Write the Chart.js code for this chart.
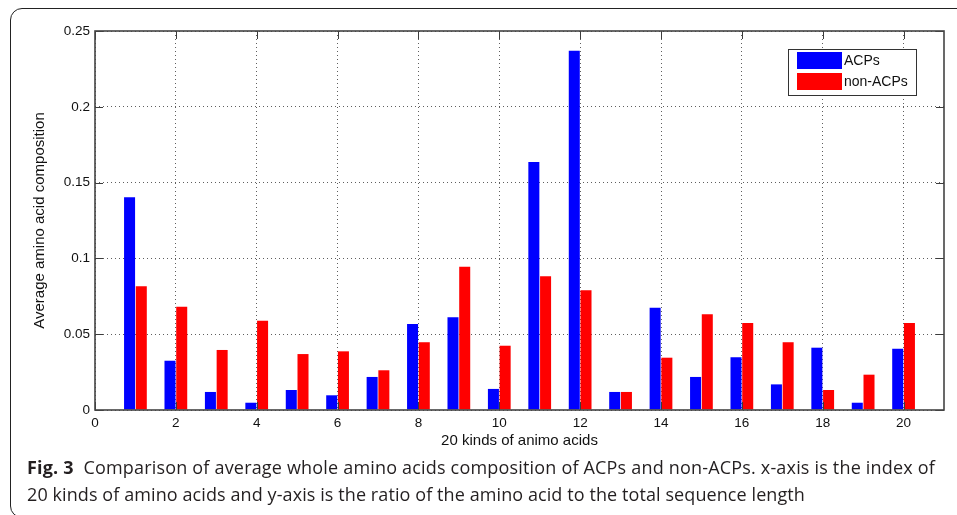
<!DOCTYPE html>
<html>
<head>
<meta charset="utf-8">
<script src="https://cdn.jsdelivr.net/npm/chart.js@4.4.1/dist/chart.umd.min.js"></script>
<style>
  html, body { margin: 0; padding: 0; background: #fff; }
  body { width: 957px; height: 515px; position: relative; overflow: hidden; }
  #frame {
    position: absolute; left: 10px; top: 8px; width: 980px; height: 508px;
    border: 1.5px solid #222; border-radius: 12px 0 0 12px;
  }
  #wrap { position: absolute; left: 0; top: 0; width: 957px; height: 455px; }
  #caption {
    position: absolute; left: 27px; top: 454px;
    font-family: "Open Sans", "Noto Sans", sans-serif; font-size: 18px;
    line-height: 27px; color: #231f20;
  }
  #caption .ln { white-space: nowrap; display: block; }
  #caption .ln span { display: inline-block; }
</style>
</head>
<body>
<div id="frame"></div>
<div id="wrap"><canvas id="chart" width="957" height="455"></canvas></div>
<div id="caption">
  <div class="ln"><span id="line1"><b>Fig. 3</b>&nbsp;&nbsp;Comparison of average whole amino acids composition of ACPs and non-ACPs. x-axis is the index of</span></div>
  <div class="ln"><span id="line2">20 kinds of amino acids and y-axis is the ratio of the amino acid to the total sequence length</span></div>
</div>
<script>
// amino acid index 1..20
const aminoIndex = [1, 2, 3, 4, 5, 6, 7, 8, 9, 10, 11, 12, 13, 14, 15, 16, 17, 18, 19, 20];
const acpValues = [0.1403, 0.0325, 0.0119, 0.0048, 0.0132, 0.0097, 0.0218, 0.0567, 0.0611, 0.0139,
                   0.1636, 0.2370, 0.0119, 0.0675, 0.0218, 0.0348, 0.0169, 0.0411, 0.0048, 0.0404];
const nonAcpValues = [0.0816, 0.0681, 0.0396, 0.0589, 0.0369, 0.0387, 0.0262, 0.0447, 0.0945, 0.0424,
                      0.0882, 0.0790, 0.0119, 0.0345, 0.0631, 0.0574, 0.0447, 0.0132, 0.0233, 0.0574];
const xTicks = [0, 2, 4, 6, 8, 10, 12, 14, 16, 18, 20];
const yTicks = [0, 0.05, 0.1, 0.15, 0.2, 0.25];

const axisFont = { family: "'Liberation Sans', Arial, sans-serif", size: 13.5 };
const titleFont = { family: "'Liberation Sans', Arial, sans-serif", size: 15 };

// box round the axes plus MATLAB-style inward tick marks
const boxPlugin = {
    id: 'axesBox',
    afterDraw(chart) {
        const { ctx, chartArea: a, scales } = chart;
        const len = 8;
        ctx.save();
        ctx.strokeStyle = '#3c3c3c';
        ctx.lineWidth = 1;
        ctx.beginPath();
        xTicks.forEach(v => {
            const px = Math.round(scales.x.getPixelForValue(v)) + 0.5;
            ctx.moveTo(px, a.bottom); ctx.lineTo(px, a.bottom - len);
            ctx.moveTo(px, a.top); ctx.lineTo(px, a.top + len);
        });
        yTicks.forEach(v => {
            const py = Math.round(scales.y.getPixelForValue(v)) + 0.5;
            ctx.moveTo(a.left, py); ctx.lineTo(a.left + len, py);
            ctx.moveTo(a.right, py); ctx.lineTo(a.right - len, py);
        });
        ctx.stroke();
        ctx.lineWidth = 1.6;
        ctx.strokeStyle = '#444';
        ctx.strokeRect(a.left, a.top, a.right - a.left, a.bottom - a.top);
        ctx.restore();
    }
};

// legend box inside the top right corner
const legendPlugin = {
    id: 'insideLegend',
    afterDraw(chart) {
        const { ctx, chartArea: a } = chart;
        const bx = a.right - 156, by = a.top + 18, bw = 128, bh = 46;
        ctx.save();
        ctx.fillStyle = '#fff';
        ctx.fillRect(bx, by, bw, bh);
        ctx.strokeStyle = '#333';
        ctx.lineWidth = 1;
        ctx.strokeRect(bx + 0.5, by + 0.5, bw, bh);
        ctx.font = "14px 'Liberation Sans', Arial, sans-serif";
        ctx.textBaseline = 'middle';
        chart.data.datasets.forEach((ds, i) => {
            const sy = by + 3 + i * 21;
            ctx.fillStyle = ds.backgroundColor;
            ctx.fillRect(bx + 9, sy, 45, 17);
            ctx.fillStyle = '#111';
            ctx.fillText(ds.label, bx + 56, sy + 9);
        });
        ctx.restore();
    }
};

new Chart(document.getElementById('chart'), {
    type: 'bar',
    data: {
        datasets: [
            {
                label: 'ACPs',
                data: aminoIndex.map((x, i) => ({ x: x, y: acpValues[i] })),
                backgroundColor: '#0000ff',
                borderWidth: 0
            },
            {
                label: 'non-ACPs',
                data: aminoIndex.map((x, i) => ({ x: x, y: nonAcpValues[i] })),
                backgroundColor: '#ff0000',
                borderWidth: 0
            }
        ]
    },
    options: {
        responsive: false,
        animation: false,
        devicePixelRatio: 1,
        categoryPercentage: 0.58,
        barPercentage: 0.94,
        layout: { padding: { top: 31, right: 13, left: 0, bottom: 0 } },
        plugins: {
            legend: { display: false },
            tooltip: { enabled: false }
        },
        scales: {
            x: {
                type: 'linear',
                min: 0,
                max: 21,
                offset: false,
                z: 1,
                afterBuildTicks: s => { s.ticks = xTicks.map(v => ({ value: v })); },
                afterFit: s => { s.height = 45; },
                grid: { offset: false, color: 'rgba(40,40,40,0.75)', lineWidth: 1, drawTicks: false },
                border: { display: false, dash: [1, 3] },
                ticks: { font: axisFont, color: '#111', padding: 5, maxRotation: 0, autoSkip: false },
                title: { display: true, text: '20 kinds of animo acids', font: titleFont, color: '#111', padding: { top: 0, bottom: 5 } }
            },
            y: {
                min: 0,
                max: 0.25,
                z: 1,
                afterBuildTicks: s => { s.ticks = yTicks.map(v => ({ value: v })); },
                afterFit: s => { s.width = 95; },
                grid: { color: 'rgba(40,40,40,0.75)', lineWidth: 1, drawTicks: false },
                border: { display: false, dash: [1, 3] },
                ticks: { font: axisFont, color: '#111', padding: 5, callback: v => String(v) },
                title: { display: true, text: 'Average amino acid composition', font: titleFont, color: '#111', padding: { top: 31, bottom: 0 } }
            }
        }
    },
    plugins: [boxPlugin, legendPlugin]
});

// stretch the caption lines to the widths they have in the figure
function fitLine(id, target) {
    const el = document.getElementById(id);
    const n = el.textContent.length;
    const w = el.getBoundingClientRect().width;
    el.style.letterSpacing = ((target - w) / n) + 'px';
}
fitLine('line1', 908);
fitLine('line2', 778);
</script>
</body>
</html>
